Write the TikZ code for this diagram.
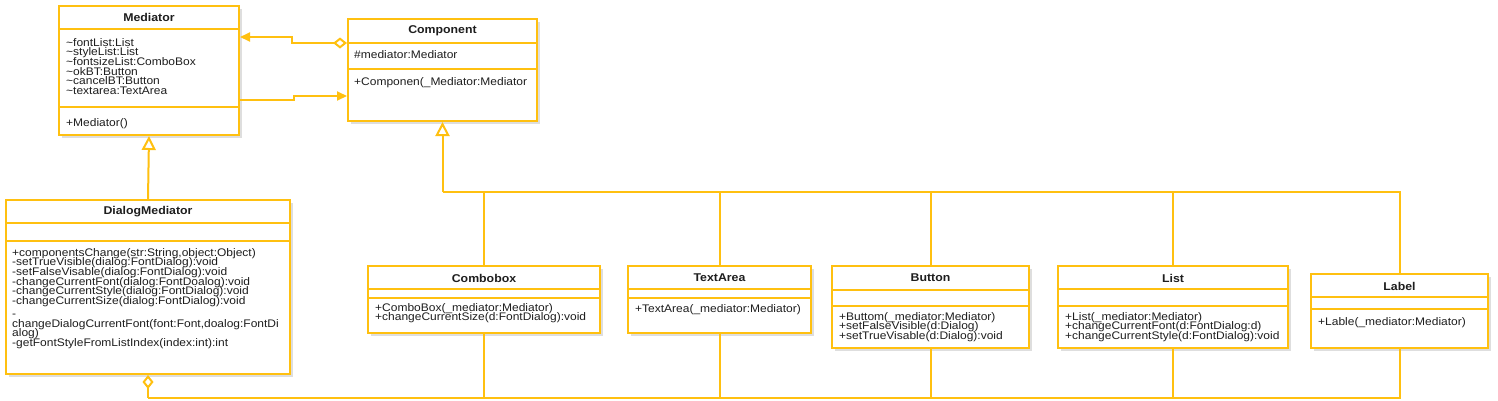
\documentclass[tikz,border=0pt]{standalone}
\usepackage{fontspec}
\setmainfont{Liberation Sans}
\newfontfamily\umlfont[FakeStretch=1.09]{Liberation Sans}
\usepackage{tikz}
\usetikzlibrary{positioning,arrows.meta,shadows,calc}
\definecolor{umlyellow}{RGB}{255,192,16}
\definecolor{umltext}{RGB}{30,30,30}
\lineskiplimit=-20pt
\lineskip=0pt

\begin{document}
\begin{tikzpicture}[x=1pt, y=-1pt]
    \tikzstyle{classbox} = [rectangle, draw=umlyellow, line width=2pt, fill=white, anchor=north west, inner sep=0pt, drop shadow={shadow xshift=2.5pt, shadow yshift=-3pt, fill=black, opacity=0.13}]
    \tikzstyle{classname} = [font=\umlfont\fontsize{11.3}{12}\selectfont\bfseries, text=umltext, inner sep=0pt]
    \tikzstyle{members} = [font=\umlfont\fontsize{11}{9.7}\selectfont, text=umltext, align=left, anchor=north west, inner sep=0pt]
    \tikzstyle{umlline} = [draw=umlyellow, line width=2pt]
    \tikzstyle{extends} = [umlline, -{Triangle[open, length=14pt, width=14pt, fill=white]}]

    \fill[white] (0,0) rectangle (1498,400);
    \useasboundingbox (0,0) rectangle (1498,400);

    % Mediator
    \node [classbox, minimum width=180, minimum height=129] (mediator) at (58,5) {};
    \node [classname] (mediator_name) at ([yshift=-12]mediator.north) {Mediator};
    \node [members] (mediator_attrs) at ([xshift=8,yshift=-33]mediator.north west) {\textasciitilde fontList:List\\\textasciitilde styleList:List\\\textasciitilde fontsizeList:ComboBox\\\textasciitilde okBT:Button\\\textasciitilde cancelBT:Button\\\textasciitilde textarea:TextArea};
    \node [members] (mediator_ops) at ([xshift=8,yshift=-113]mediator.north west) {+Mediator()};
    \draw [umlline] ([yshift=-24]mediator.north west) -- ([yshift=-24]mediator.north east);
    \draw [umlline] ([yshift=-102]mediator.north west) -- ([yshift=-102]mediator.north east);

    % Component
    \node [classbox, minimum width=189, minimum height=102] (component) at (347,18) {};
    \node [classname] (component_name) at ([yshift=-13]component.north) {Component};
    \node [members] (component_attrs) at ([xshift=7,yshift=-32]component.north west) {\#mediator:Mediator};
    \node [members] (component_ops) at ([xshift=7,yshift=-59]component.north west) {+Componen(\_Mediator:Mediator};
    \draw [umlline] ([yshift=-25]component.north west) -- ([yshift=-25]component.north east);
    \draw [umlline] ([yshift=-51]component.north west) -- ([yshift=-51]component.north east);

    % DialogMediator
    \node [classbox, minimum width=284, minimum height=174] (dialog_mediator) at (5,199) {};
    \node [classname] (dialog_mediator_name) at ([yshift=-13]dialog_mediator.north) {DialogMediator};
    \node [members] (dialog_mediator_ops) at ([xshift=7,yshift=-49]dialog_mediator.north west) {+componentsChange(str:String,object:Object)\\-setTrueVisible(dialog:FontDialog):void\\-setFalseVisable(dialog:FontDialog):void\\-changeCurrentFont(dialog:FontDoalog):void\\-changeCurrentStyle(dialog:FontDialog):void\\-changeCurrentSize(dialog:FontDialog):void\\[3pt]-\\changeDialogCurrentFont(font:Font,doalog:FontDi\\alog)\\-getFontStyleFromListIndex(index:int):int};
    \draw [umlline] ([yshift=-24]dialog_mediator.north west) -- ([yshift=-24]dialog_mediator.north east);
    \draw [umlline] ([yshift=-42]dialog_mediator.north west) -- ([yshift=-42]dialog_mediator.north east);

    % Combobox
    \node [classbox, minimum width=232, minimum height=67] (combobox) at (367,265) {};
    \node [classname] (combobox_name) at ([yshift=-13]combobox.north) {Combobox};
    \node [members] (combobox_ops) at ([xshift=8,yshift=-38]combobox.north west) {+ComboBox(\_mediator:Mediator)\\+changeCurrentSize(d:FontDialog):void};
    \draw [umlline] ([yshift=-24]combobox.north west) -- ([yshift=-24]combobox.north east);
    \draw [umlline] ([yshift=-33]combobox.north west) -- ([yshift=-33]combobox.north east);

    % TextArea
    \node [classbox, minimum width=183, minimum height=67] (text_area) at (627,265) {};
    \node [classname] (text_area_name) at ([yshift=-13]text_area.north) {TextArea};
    \node [members] (text_area_ops) at ([xshift=8,yshift=-39]text_area.north west) {+TextArea(\_mediator:Mediator)};
    \draw [umlline] ([yshift=-24]text_area.north west) -- ([yshift=-24]text_area.north east);
    \draw [umlline] ([yshift=-33]text_area.north west) -- ([yshift=-33]text_area.north east);

    % Button
    \node [classbox, minimum width=197, minimum height=82] (button) at (831,265) {};
    \node [classname] (button_name) at ([yshift=-13]button.north) {Button};
    \node [members] (button_ops) at ([xshift=8,yshift=-47]button.north west) {+Buttom(\_mediator:Mediator)\\+setFalseVisible(d:Dialog)\\+setTrueVisable(d:Dialog):void};
    \draw [umlline] ([yshift=-25]button.north west) -- ([yshift=-25]button.north east);
    \draw [umlline] ([yshift=-41]button.north west) -- ([yshift=-41]button.north east);

    % List
    \node [classbox, minimum width=230, minimum height=82] (list) at (1057,265) {};
    \node [classname] (list_name) at ([yshift=-13]list.north) {List};
    \node [members] (list_ops) at ([xshift=8,yshift=-47]list.north west) {+List(\_mediator:Mediator)\\+changeCurrentFont(d:FontDialog:d)\\+changeCurrentStyle(d:FontDialog):void};
    \draw [umlline] ([yshift=-24]list.north west) -- ([yshift=-24]list.north east);
    \draw [umlline] ([yshift=-41]list.north west) -- ([yshift=-41]list.north east);

    % Label
    \node [classbox, minimum width=177, minimum height=74] (label) at (1310,273) {};
    \node [classname] (label_name) at ([yshift=-13]label.north) {Label};
    \node [members] (label_ops) at ([xshift=8,yshift=-44]label.north west) {+Lable(\_mediator:Mediator)};
    \draw [umlline] ([yshift=-24]label.north west) -- ([yshift=-24]label.north east);
    \draw [umlline] ([yshift=-36]label.north west) -- ([yshift=-36]label.north east);

    % Buses
    \coordinate (gen_bus) at (0,192);
    \coordinate (agg_bus) at (0,397.5);

    % Arrows
    \draw [umlline, {Diamond[open, length=14pt, width=11pt, fill=white]}-{Triangle[length=10pt, width=9pt]}] ([yshift=-25]component.north west) -- ++(-55,0) |- ([yshift=-32]mediator.north east);
    \draw [umlline, -{Triangle[length=10pt, width=9pt]}] ([yshift=-95]mediator.north east) -- ++(54,0) |- ([yshift=-78]component.north west);
    \draw [extends] (dialog_mediator.north) -- (mediator.south);
    \foreach \cls in {combobox,text_area,button,list,label}
        \draw [umlline] (\cls.north) |- (component.south |- gen_bus);
    \draw [extends] (component.south |- gen_bus) -- (component.south);
    \foreach \cls in {combobox,text_area,button,list,label}
        \draw [umlline] (\cls.south) |- (dialog_mediator.south |- agg_bus);
    \draw [umlline, {Diamond[open, length=14pt, width=11pt, fill=white]}-] (dialog_mediator.south) -- (dialog_mediator.south |- agg_bus);
\end{tikzpicture}
\end{document}
